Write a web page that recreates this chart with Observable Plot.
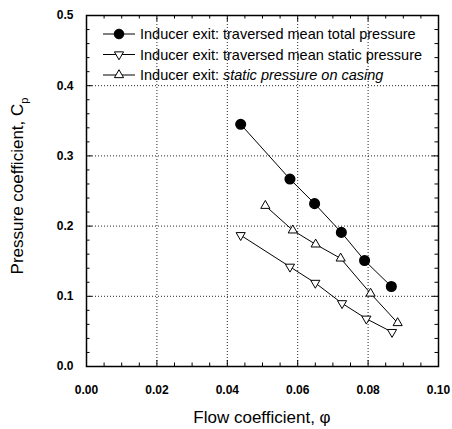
<!DOCTYPE html>
<html><head><meta charset="utf-8">
<script src="https://cdn.jsdelivr.net/npm/d3@7"></script>
<script src="https://cdn.jsdelivr.net/npm/@observablehq/plot@0.6"></script>
<style>body{margin:0;background:#fff}</style>
</head><body><div id="chart"></div>
<script>
// ---- data ----
const seriesNames = [
  "Inducer exit: traversed mean total pressure",
  "Inducer exit: traversed mean static pressure",
  "Inducer exit: static pressure on casing"
];
const phiTotal  = [0.0438, 0.0578, 0.0648, 0.0724, 0.0790, 0.0866];
const cpTotal   = [0.345, 0.267, 0.232, 0.191, 0.151, 0.114];
const phiStatic = [0.0438, 0.0578, 0.0650, 0.0726, 0.0795, 0.0868];
const cpStatic  = [0.187, 0.142, 0.119, 0.090, 0.068, 0.049];
const phiCasing = [0.0508, 0.0586, 0.0651, 0.0722, 0.0807, 0.0884];
const cpCasing  = [0.229, 0.194, 0.174, 0.154, 0.104, 0.062];

const xTicks = [0, 0.02, 0.04, 0.06, 0.08, 0.10];
const yTicks = [0, 0.1, 0.2, 0.3, 0.4, 0.5];
const xGrid = [0.02, 0.04, 0.06, 0.08];
const yGrid = [0.1, 0.2, 0.3, 0.4];
const xMinor = [0.005,0.01,0.015,0.025,0.03,0.035,0.045,0.05,0.055,0.065,0.07,0.075,0.085,0.09,0.095];
const yMinor = [0.02,0.04,0.06,0.08,0.12,0.14,0.16,0.18,0.22,0.24,0.26,0.28,0.32,0.34,0.36,0.38,0.42,0.44,0.46,0.48];

const xTitle = "Flow coefficient, \u03C6";
const yTitle = "Pressure coefficient, C";
const yTitleSub = "p";

const toRows = (xs, ys) => xs.map((x, i) => ({x, y: ys[i]}));
const total = toRows(phiTotal, cpTotal);
const stat = toRows(phiStatic, cpStatic);
const casing = toRows(phiCasing, cpCasing);

const triangleDown = {
  draw(context, size) {
    const y = -Math.sqrt(size / (Math.sqrt(3) * 3));
    context.moveTo(0, -y * 2);
    context.lineTo(-Math.sqrt(3) * y, y);
    context.lineTo(Math.sqrt(3) * y, y);
    context.closePath();
  }
};

const FONT = "'Liberation Sans', Arial, Helvetica, sans-serif";
// tick lengths (data units)
const XMAJ = 6 * 0.1 / 352, XMIN = 3.5 * 0.1 / 352;
const YMAJ = 6 * 0.5 / 351, YMIN = 3.5 * 0.5 / 351;

const chart = Plot.plot({
  width: 452,
  height: 429,
  marginLeft: 86,
  marginRight: 14,
  marginTop: 15,
  marginBottom: 63,
  style: {fontFamily: FONT, background: "#fff", color: "#000"},
  x: {domain: [0, 0.1]},
  y: {domain: [0, 0.5]},
  marks: [
    Plot.ruleX(xGrid, {x: d => d, stroke: "#000", strokeWidth: 1, strokeDasharray: "1,2", strokeOpacity: 0.85}),
    Plot.ruleY(yGrid, {y: d => d, stroke: "#000", strokeWidth: 1, strokeDasharray: "1,2", strokeOpacity: 0.85}),
    // inward ticks
    Plot.ruleX(xTicks, {x: d => d, y1: 0, y2: YMAJ, stroke: "#000"}),
    Plot.ruleX(xMinor, {x: d => d, y1: 0, y2: YMIN, stroke: "#000"}),
    Plot.ruleX(xTicks, {x: d => d, y1: 0.5, y2: 0.5 - YMAJ, stroke: "#000"}),
    Plot.ruleX(xMinor, {x: d => d, y1: 0.5, y2: 0.5 - YMIN, stroke: "#000"}),
    Plot.ruleY(yTicks, {y: d => d, x1: 0, x2: XMAJ, stroke: "#000"}),
    Plot.ruleY(yMinor, {y: d => d, x1: 0, x2: XMIN, stroke: "#000"}),
    Plot.ruleY(yTicks, {y: d => d, x1: 0.1, x2: 0.1 - XMAJ, stroke: "#000"}),
    Plot.ruleY(yMinor, {y: d => d, x1: 0.1, x2: 0.1 - XMIN, stroke: "#000"}),
    Plot.frame({stroke: "#000", strokeWidth: 1.5}),
    Plot.axisX(xTicks, {tickSize: 0, tickPadding: 19, tickFormat: d3.format(".2f"), fontSize: 12, fontWeight: "bold", label: null}),
    Plot.axisY(yTicks, {tickSize: 0, tickPadding: 13, tickFormat: d3.format(".1f"), fontSize: 12, fontWeight: "bold", label: null}),
    // series
    Plot.line(total, {x: "x", y: "y", stroke: "#000", strokeWidth: 1}),
    Plot.line(stat, {x: "x", y: "y", stroke: "#000", strokeWidth: 1}),
    Plot.line(casing, {x: "x", y: "y", stroke: "#000", strokeWidth: 1}),
    Plot.dot(total, {x: "x", y: "y", r: 4.8, fill: "#000", stroke: "#000", symbol: "circle"}),
    Plot.dot(stat, {x: "x", y: "y", r: 3.4, fill: "#fff", stroke: "#000", strokeWidth: 1, symbol: triangleDown}),
    Plot.dot(casing, {x: "x", y: "y", r: 3.4, fill: "#fff", stroke: "#000", strokeWidth: 1, symbol: "triangle"})
  ]
});

document.getElementById("chart").appendChild(chart);
const svg = d3.select(chart);

// axis titles
svg.append("text")
  .attr("x", 262).attr("y", 423)
  .attr("text-anchor", "middle")
  .attr("font-family", FONT).attr("font-size", 17).attr("fill", "#000")
  .text(xTitle);
const yt = svg.append("text")
  .attr("transform", "translate(23,186) rotate(-90)")
  .attr("text-anchor", "middle")
  .attr("font-family", FONT).attr("font-size", 17).attr("fill", "#000");
yt.append("tspan").text(yTitle);
yt.append("tspan").attr("font-size", 11).attr("dy", 5).text(yTitleSub);

// legend
const legend = svg.append("g").attr("font-family", FONT).attr("font-size", 14.5).attr("fill", "#000").attr("text-anchor", "start");
const rowsY = [34, 54.5, 75];
const sym = [d3.symbol(d3.symbolCircle, Math.PI * 4.8 * 4.8), d3.symbol(triangleDown, Math.PI * 3.4 * 3.4), d3.symbol(d3.symbolTriangle, Math.PI * 3.4 * 3.4)];
seriesNames.forEach((name, i) => {
  const g = legend.append("g").attr("transform", `translate(0,${rowsY[i]})`);
  g.append("line").attr("x1", 103).attr("x2", 135).attr("y1", 0).attr("y2", 0).attr("stroke", "#000");
  g.append("path").attr("d", sym[i]()).attr("transform", "translate(119,0)")
    .attr("fill", i === 0 ? "#000" : "#fff").attr("stroke", "#000");
  const t = g.append("text").attr("x", 140).attr("dy", "0.35em").attr("text-anchor", "start");
  const [pre, post] = [name.slice(0, 14), name.slice(14)];
  t.append("tspan").text(pre);
  const p = t.append("tspan").text(post);
  if (i === 2) p.attr("font-style", "italic");
});
</script>
</body></html>
